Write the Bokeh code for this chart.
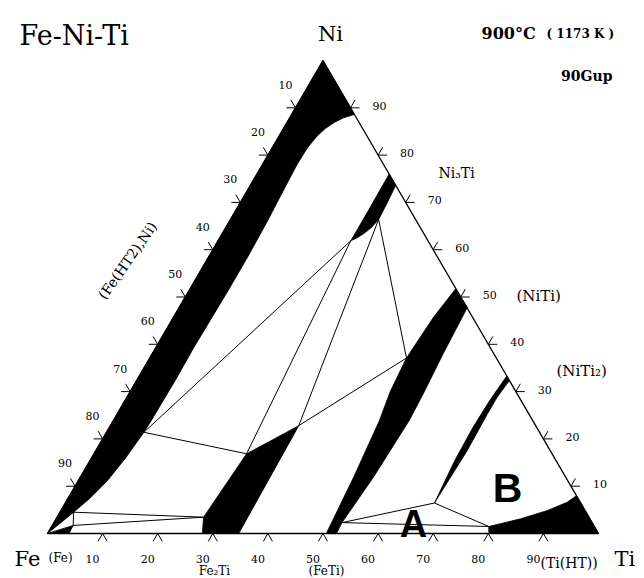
import math
from bokeh.plotting import figure
from bokeh.models import Range1d, Label, ColumnDataSource
from bokeh.core.properties import value
from bokeh.embed import file_html
from bokeh.resources import INLINE

# ---- data: compositions as (at.% Ti, at.% Ni) ----
gamma_inner = [(11.4, 88.6), (9.8, 87.9), (8.6, 86.9), (7.6, 85.6), (6.9, 84.0), (6.4, 81.5),
               (6.3, 78.0), (6.5, 73.5), (6.9, 66.0), (7.1, 58.4), (7.1, 51.4), (7.0, 45.0),
               (6.9, 39.3), (7.0, 32.3), (6.9, 24.0), (6.8, 21.4), (6.2, 16.0), (5.3, 11.2),
               (4.0, 7.5), (2.5, 4.5)]
alpha_fe = [(0.0, 0.0), (3.8, 1.7), (3.9, 0.0)]
ni3ti = [(24.0, 76.0), (26.4, 73.6), (26.7, 70.0), (26.9, 66.4), (26.4, 64.6), (25.7, 63.4),
         (24.9, 62.5), (24.1, 61.9), (24.1, 68.0)]
feti_left = [(48.2, 51.7), (47.2, 45.7), (46.6, 37.1), (47.2, 30.0), (48.3, 23.9), (49.6, 12.0), (50.6, 0.0)]
feti_right = [(52.45, 0.0), (52.3, 2.3), (53.2, 12.0), (53.7, 23.9), (53.4, 30.0), (52.8, 38.0), (52.3, 47.8)]
fe2ti = [(28.1, 0.0), (26.6, 3.45), (27.7, 16.85), (34.2, 22.8), (34.7, 0.0)]
niti2 = [(67.0, 6.45), (67.4, 17.5), (67.2, 25.3), (67.2, 28.8), (67.65, 32.35), (66.7, 33.3),
         (66.2, 28.1), (66.0, 22.5), (66.2, 15.4)]
beta_ti = [(79.35, 1.48), (84.3, 3.1), (88.3, 4.86), (91.0, 6.6), (92.0, 8.0), (100.0, 0.0), (80.1, 0.0)]

G1 = (6.8, 21.4); G2 = (27.7, 16.85); G3 = (34.2, 22.8)
T1 = (26.9, 66.4); T2 = (24.1, 61.9); N1 = (46.6, 37.1)
M = (52.3, 2.3); Q = (67.0, 6.45); R = (79.35, 1.48)
P1 = (2.5, 4.5); P2 = (3.8, 1.7); K = (26.6, 3.45)
tie_lines = [(G1, G2), (G1, T2), (G2, T2), (G3, T1), (G3, N1), (T1, N1),
             (M, Q), (Q, R), (M, R), (P1, P2), (P1, K), (P2, K)]

tick_values = [10, 20, 30, 40, 50, 60, 70, 80, 90]
bottom_labels = ["10", "20", "30", "40", "50", "60", "70", "80", "90"]
left_labels = ["10", "20", "30", "40", "50", "60", "70", "80", "90"]   # at Ni = 100 - v
right_labels = ["10", "20", "30", "40", "50", "60", "70", "80", "90"]  # at Ni = v


def tx(ti, ni):
    return ti + ni / 2.0


def pts(seq):
    return [tx(a, b) for a, b in seq], [b for a, b in seq]


# ---- figure: 5.51 px per x unit, 4.73 px per Ni unit ----
SX, SY = 5.51, 4.73
W, H = 644, 578
FX, FY = 47.0, 533.0   # pixel position of the Fe corner
x0 = -FX / SX
y1 = FY / SY
p = figure(width=W, height=H, x_range=Range1d(x0, x0 + W / SX), y_range=Range1d(y1 - H / SY, y1),
           output_backend="svg", toolbar_location=None, x_axis_location=None, y_axis_location=None,
           min_border=0, title=None)
p.grid.visible = False
p.outline_line_color = None
p.background_fill_color = "white"
p.border_fill_color = "white"


def X(px):
    return (px - FX) / SX


def Y(py):
    return (FY - py) / SY


# black single-phase regions
gamma_poly = [(0.0, 0.0), (0.0, 100.0)] + gamma_inner
feti_poly = feti_left + feti_right
for poly in [gamma_poly, alpha_fe, ni3ti, feti_poly, fe2ti, niti2, beta_ti]:
    xs, ys = pts(poly)
    p.patch(xs, ys, fill_color="black", line_color="black", line_width=0.8)

# tie lines / three-phase triangles
p.multi_line([[tx(*a), tx(*b)] for a, b in tie_lines], [[a[1], b[1]] for a, b in tie_lines],
             line_color="black", line_width=1.0)

# triangle outline
ox, oy = pts([(0, 0), (100, 0), (0, 100), (0, 0)])
p.line(ox, oy, line_color="black", line_width=1.3)

# ticks
t = 1.65
s = 1.63
txs, tys = [], []
for v in tick_values:
    bx = tx(v, 0)
    txs += [[bx - 0.5 * t, bx, bx + 0.5 * t]]
    tys += [[-t, 0.0, -t]]
    n = 100 - v
    lx, ly = tx(0, n), n
    txs += [[lx - s, lx, lx - 0.5 * t]]
    tys += [[ly, ly, ly + t]]
    rx, ry = tx(100 - v, v), v
    txs += [[rx + s, rx, rx + 0.5 * t]]
    tys += [[ry, ry, ry + t]]
p.multi_line(txs, tys, line_color="black", line_width=1.0)

tick_font = value("DejaVu Serif")
src_b = ColumnDataSource(dict(x=[tx(v, 0) for v in tick_values], y=[0.0] * 9, t=bottom_labels))
p.text("x", "y", text="t", source=src_b, x_offset=-10, y_offset=25, text_font=tick_font,
       text_font_size="11px", text_align="center", text_baseline="middle", text_color="black")
src_l = ColumnDataSource(dict(x=[tx(0, 100 - v) for v in tick_values], y=[100 - v for v in tick_values], t=left_labels))
p.text("x", "y", text="t", source=src_l, x_offset=-10, y_offset=-23, text_font=tick_font,
       text_font_size="11px", text_align="center", text_baseline="middle", text_color="black")
src_r = ColumnDataSource(dict(x=[tx(100 - v, v) for v in tick_values], y=tick_values, t=right_labels))
p.text("x", "y", text="t", source=src_r, x_offset=29, y_offset=-2, text_font=tick_font,
       text_font_size="11px", text_align="center", text_baseline="middle", text_color="black")

labels = [
    ("Fe-Ni-Ti", 19, 35, "left", "alphabetic", "27px", "normal", "DejaVu Serif", 0),
    ("Ni", 330, 33, "center", "alphabetic", "21px", "normal", "DejaVu Serif", 0),
    ("900°C", 481, 33, "left", "alphabetic", "16px", "bold", "DejaVu Serif", 0),
    ("( 1173 K )", 546, 33, "left", "alphabetic", "12px", "bold", "DejaVu Serif", 0),
    ("90Gup", 612, 75, "right", "alphabetic", "14px", "bold", "DejaVu Serif", 0),
    ("Ni\u2083Ti", 438, 172, "left", "alphabetic", "14px", "normal", "DejaVu Serif", 0),
    ("(NiTi)", 516, 295, "left", "alphabetic", "15px", "normal", "DejaVu Serif", 0),
    ("(NiTi\u2082)", 556, 370, "left", "alphabetic", "15px", "normal", "DejaVu Serif", 0),
    ("Fe", 14, 558, "left", "alphabetic", "21px", "normal", "DejaVu Serif", 0),
    ("(Fe)", 48, 557, "left", "alphabetic", "12px", "normal", "DejaVu Serif", 0),
    ("Ti", 614, 558, "left", "alphabetic", "21px", "normal", "DejaVu Serif", 0),
    ("Fe\u2082Ti", 214, 570, "center", "alphabetic", "12px", "normal", "DejaVu Serif", 0),
    ("(FeTi)", 326, 570, "center", "alphabetic", "12px", "normal", "DejaVu Serif", 0),
    ("(Ti(HT))", 540, 562, "left", "alphabetic", "14px", "normal", "DejaVu Serif", 0),
    ("A", 413, 523, "center", "alphabetic", "38px", "bold", "Liberation Sans", 0),
    ("B", 507, 487, "center", "alphabetic", "41px", "bold", "Liberation Sans", 0),
    ("(Fe(HT2),Ni)", 127, 260, "center", "middle", "14px", "normal", "DejaVu Serif", 55),
]
for text, px, py, al, bl, fs, st, font, ang in labels:
    p.add_layout(Label(x=X(px), y=Y(py), text=text, text_align=al, text_baseline=bl,
                       text_font_size=fs, text_font_style=st, text_font=font,
                       angle=math.radians(ang), text_color="black"))

open("out.html", "w").write(file_html(p, INLINE))
